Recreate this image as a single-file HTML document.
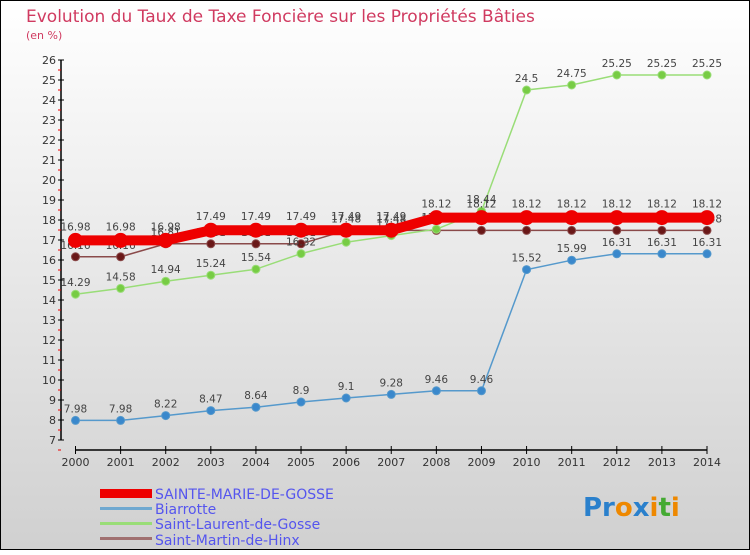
<!DOCTYPE html>
<html><head><meta charset="utf-8"><style>
body{margin:0;width:750px;height:550px;overflow:hidden;}
svg text{font-family:"DejaVu Sans","Liberation Sans",sans-serif;}
</style></head><body>
<svg id="chart" width="750" height="550" xmlns="http://www.w3.org/2000/svg">
<defs><linearGradient id="bg" x1="0" y1="0" x2="0" y2="1"><stop offset="0" stop-color="#ffffff"/><stop offset="1" stop-color="#d0d0d0"/></linearGradient></defs>
<rect x="0.5" y="0.5" width="749" height="549" fill="url(#bg)" stroke="#000"/>
<text x="26" y="22" font-size="17" fill="#d03a60">Evolution du Taux de Taxe Foncière sur les Propriétés Bâties</text>
<text x="26" y="39" font-size="11" fill="#d03a60">(en %)</text>
<g id="axes"></g><g id="series"></g>
<g>
<rect x="100" y="489" width="52" height="9" fill="#ee0000"/>
<text x="155" y="499" font-size="14" fill="#5555ee">SAINTE-MARIE-DE-GOSSE</text>
<rect x="100" y="507" width="52" height="3" fill="#6fa8d0"/>
<text x="155" y="514" font-size="14" fill="#5555ee">Biarrotte</text>
<rect x="100" y="522" width="52" height="3" fill="#99dd77"/>
<text x="155" y="529" font-size="14" fill="#5555ee">Saint-Laurent-de-Gosse</text>
<rect x="100" y="537" width="52" height="3" fill="#a07070"/>
<text x="155" y="545" font-size="14" fill="#5555ee">Saint-Martin-de-Hinx</text>
</g>
<text x="583" y="516" font-size="26" font-weight="bold"><tspan fill="#2a80cc">Pr</tspan><tspan fill="#ee8800">o</tspan><tspan fill="#2a80cc">x</tspan><tspan fill="#ee8800">i</tspan><tspan fill="#44aa33">t</tspan><tspan fill="#ee8800">i</tspan></text>
</svg>
<script>
const years=[2000,2001,2002,2003,2004,2005,2006,2007,2008,2009,2010,2011,2012,2013,2014];
const yTicks=[7,8,9,10,11,12,13,14,15,16,17,18,19,20,21,22,23,24,25,26];
const saintMartin=[16.16,16.16,16.81,16.81,16.81,16.81,17.48,17.48,17.48,17.48,17.48,17.48,17.48,17.48,17.48];
const saintLaurent=[14.29,14.58,14.94,15.24,15.54,16.32,16.89,17.22,17.54,18.44,24.5,24.75,25.25,25.25,25.25];
const biarrotte=[7.98,7.98,8.22,8.47,8.64,8.9,9.1,9.28,9.46,9.46,15.52,15.99,16.31,16.31,16.31];
const sainteMarie=[16.98,16.98,16.98,17.49,17.49,17.49,17.49,17.49,18.12,18.12,18.12,18.12,18.12,18.12,18.12];
const NS="http://www.w3.org/2000/svg";
const X=i=>75.5+i*(707-75.5)/(years.length-1);
const Y=v=>440-(v-7)*20;
function mk(tag,attrs,parent){const e=document.createElementNS(NS,tag);for(const k in attrs)e.setAttribute(k,attrs[k]);parent.appendChild(e);return e;}
const ax=document.getElementById('axes');
let l=mk('line',{x1:61,y1:Y(26),x2:61,y2:Y(7),stroke:'#000','stroke-width':1.5},ax);


yTicks.forEach(v=>{
  mk('line',{x1:58,y1:Y(v),x2:64,y2:Y(v),stroke:'#000'},ax);
  mk('line',{x1:58,y1:Y(v)+10,x2:61,y2:Y(v)+10,stroke:'#e00'},ax);
  const t=mk('text',{x:56,y:Y(v)+4,'font-size':11,fill:'#333','text-anchor':'end'},ax);t.textContent=v;
  
  
});
l=mk('line',{x1:75.5,y1:450,x2:707,y2:450,stroke:'#000','stroke-width':1.5},ax);


years.forEach((yr,i)=>{
  mk('line',{x1:X(i),y1:446,x2:X(i),y2:454,stroke:'#000'},ax);
  const t=mk('text',{x:X(i),y:466,'font-size':11,fill:'#333','text-anchor':'middle'},ax);t.textContent=yr;
  
  
});
const sg=document.getElementById('series');
function draw(name,data,color,dot,w,r){
  const g=mk('g',{},sg);
  
  
  const p=mk('polyline',{points:data.map((v,i)=>X(i)+','+Y(v)).join(' '),fill:'none',stroke:color,'stroke-width':w},g);
  
  
  data.forEach((v,i)=>{
    const c=mk('circle',{cx:X(i),cy:Y(v),r:r,fill:dot,stroke:color,'stroke-width':1},g);
    
    
    const t=mk('text',{x:X(i),y:Y(v)-(r>5?10:8),'font-size':10.5,fill:'#444','text-anchor':'middle'},g);t.textContent=v;
    
    
  });
}
draw('saint-martin',saintMartin,'#8a4a4a','#6a1818',1.5,4);
draw('saint-laurent',saintLaurent,'#99dd77','#77cc44',1.5,4);
draw('biarrotte',biarrotte,'#5599cc','#3a88cc',1.5,4);
draw('sainte-marie',sainteMarie,'#ee0000','#ee0000',10,7);
</script>
</body></html>
